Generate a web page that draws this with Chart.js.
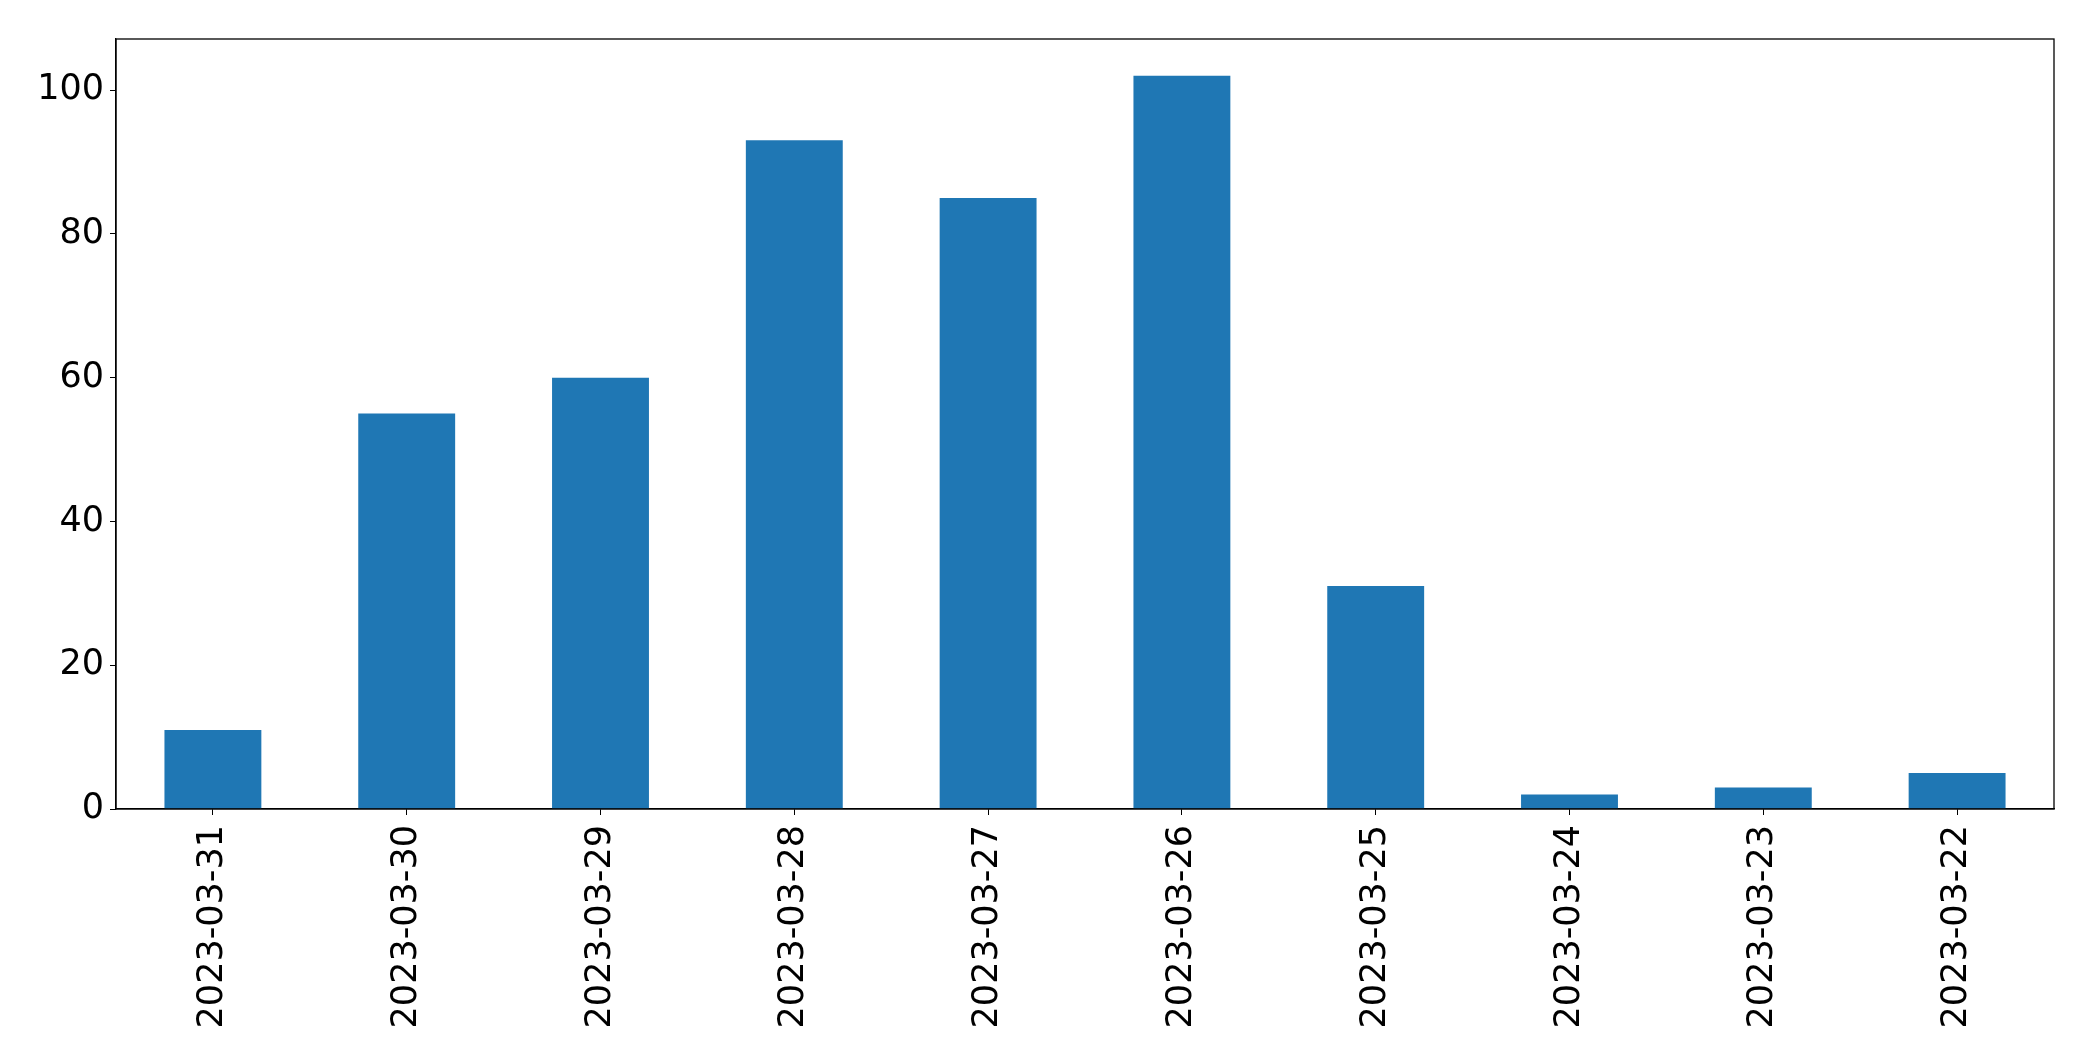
<!DOCTYPE html>
<html>
<head>
<meta charset="utf-8">
<script src="https://cdn.jsdelivr.net/npm/chart.js@4/dist/chart.umd.min.js"></script>
<style>
html,body{margin:0;padding:0;background:#fff;}
#wrap{width:2093px;height:1061px;}
</style>
</head>
<body>
<div id="wrap"><canvas id="c" width="2093" height="1061"></canvas></div>
<script>
const categories = ["2023-03-31","2023-03-30","2023-03-29","2023-03-28","2023-03-27","2023-03-26","2023-03-25","2023-03-24","2023-03-23","2023-03-22"];
const values = [11, 55, 60, 93, 85, 102, 31, 2, 3, 5];
const yTicks = [0, 20, 40, 60, 80, 100];
const yMax = 107.1;

const frame = {
  id: 'frame',
  afterDraw(chart) {
    const a = chart.chartArea, ctx = chart.ctx;
    ctx.save();
    ctx.strokeStyle = '#000';
    ctx.lineWidth = 1.3;
    ctx.strokeRect(a.left, a.top, a.right - a.left, a.bottom - a.top);
    ctx.restore();
  }
};

new Chart(document.getElementById('c'), {
  type: 'bar',
  data: {
    labels: categories,
    datasets: [{
      data: values,
      backgroundColor: '#1f77b4',
      borderWidth: 0,
      barPercentage: 0.5,
      categoryPercentage: 1.0
    }]
  },
  options: {
    responsive: false,
    animation: false,
    devicePixelRatio: 1,
    layout: { padding: { top: 39, right: 39, left: 0, bottom: 0 } },
    plugins: { legend: { display: false }, tooltip: { enabled: false } },
    scales: {
      x: {
        grid: { display: true, offset: false, drawOnChartArea: false, drawTicks: true, tickLength: 6, color: '#000', lineWidth: 1 },
        border: { display: true, color: '#000', width: 1.3 },
        ticks: {
          color: '#000',
          font: { family: 'DejaVu Sans', size: 35 },
          minRotation: 90, maxRotation: 90,
          autoSkip: false,
          padding: 10
        },
        afterFit(scale) { scale.height = 1061 - 809; }
      },
      y: {
        min: 0, max: yMax,
        grid: { display: true, drawOnChartArea: false, drawTicks: true, tickLength: 6, color: '#000', lineWidth: 1 },
        border: { display: true, color: '#000', width: 1.3 },
        afterBuildTicks(scale) { scale.ticks = yTicks.map(v => ({ value: v })); },
        ticks: {
          color: '#000',
          font: { family: 'DejaVu Sans', size: 35 },
          padding: 6
        },
        afterFit(scale) { scale.width = 116; }
      }
    }
  },
  plugins: [frame]
});
</script>
</body>
</html>
